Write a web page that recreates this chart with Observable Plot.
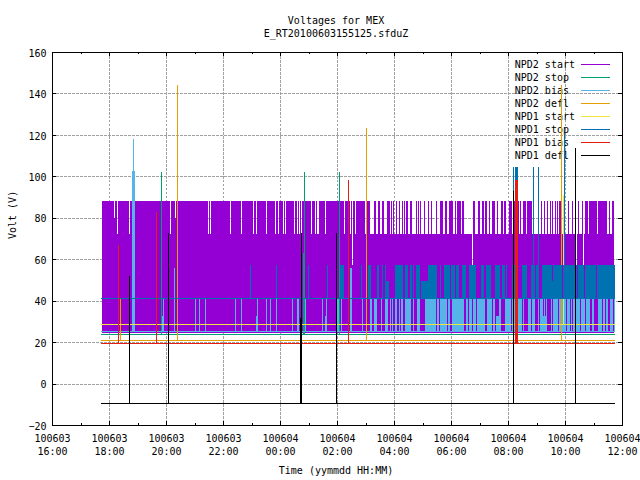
<!DOCTYPE html>
<html>
<head>
<meta charset="utf-8">
<script src="https://cdn.jsdelivr.net/npm/d3@7"></script>
<script src="https://cdn.jsdelivr.net/npm/@observablehq/plot@0.6"></script>
<style>html,body{margin:0;padding:0;background:#fff}svg{display:block}</style>
</head>
<body>
<div id="chart"></div>
<script>
// x values are hours after 100603 16:00, y values are volts
const majorHours = [0,2,4,6,8,10,12,14,16,18,20];
const minorHours = [1,3,5,7,9,11,13,15,17,19];
const xTickLabels = ["100603\n16:00","100603\n18:00","100603\n20:00","100603\n22:00","100604\n00:00","100604\n02:00","100604\n04:00","100604\n06:00","100604\n08:00","100604\n10:00","100604\n12:00"];
const voltTicks = [-20,0,20,40,60,80,100,120,140,160];
const seriesNames = ["NPD2 start","NPD2 stop","NPD2 bias","NPD2 defl","NPD1 start","NPD1 stop","NPD1 bias","NPD1 defl"];
const seriesColors = ["#9400d3","#009e73","#56b4e9","#e69f00","#f0e442","#0072b2","#e51e10","#000000"];
const dataStart = 1.72, dataEnd = 19.74;

// NPD2 start: dropouts in the band that reaches 88 V
const purpleGapNarrow = [2.29,2.71,4.15,5.48,5.55,6.26,6.64,7.06,7.18,7.51,7.84,7.96,8.13,8.19,8.50,8.62,8.70,8.76,9.12,9.23,9.59,10.26,10.49,10.64];
const purpleGapWide = [[9.30,9.37],[10.97,11.02],[11.16,11.30],[11.37,11.44],[11.51,11.59],[11.65,11.74],[11.86,11.89],[11.93,11.98],[12.01,12.07],[12.11,12.18],[12.21,12.28],[12.33,12.36],[12.40,12.42],[12.49,12.57],[12.63,12.76],[12.81,12.85],[12.88,12.91],[12.95,13.05],[13.09,13.19],[13.23,13.30],[13.33,13.47],[13.51,13.61],[13.72,13.79],[13.85,13.93],[14.07,14.14],[14.18,14.21],[14.35,14.39],[14.46,14.78],[14.84,14.94],[15.01,15.09],[15.16,15.19],[15.26,15.33],[15.37,15.44],[15.54,15.61],[15.65,15.75],[15.82,15.86],[15.93,16.04],[16.14,16.21],[16.28,16.35],[16.39,16.42],[16.46,16.53],[16.63,16.67],[16.84,17.16],[17.19,17.26],[17.30,17.37],[17.40,17.47],[17.51,17.54],[17.58,17.65],[17.68,17.72],[17.75,17.79],[17.89,17.93],[18.00,18.11],[18.14,18.25],[18.28,18.39],[18.42,18.46],[18.49,18.60],[18.67,18.70],[18.81,18.84],[19.12,19.16],[19.47,19.54],[19.58,19.65]];
const purpleGapShort = [2.19,4.33];
const purpleGapDeep = [10.56,14.75,18.42,18.66];

// NPD1 stop: block runs
const blueHigh = [[6.95,6.98],[7.86,7.89],[8.98,9.02],[9.65,9.68],[10.12,10.16],[10.19,10.23],[10.84,10.88],[11.09,11.19],[11.40,11.47],[11.58,11.61],[11.68,11.72],[12.04,12.32],[12.39,12.49],[12.56,12.63],[12.67,12.70],[12.77,12.91],[13.19,13.51],[13.61,13.65],[13.75,13.96],[14.00,14.14],[14.18,14.28],[14.39,14.53],[14.63,14.88],[15.05,15.16],[15.23,15.40],[15.54,15.72],[15.79,15.89],[15.93,15.96],[16.14,16.32],[16.49,16.67],[16.81,16.95],[16.98,17.09],[17.19,17.54],[17.58,17.88],[17.93,18.42],[18.46,18.67],[18.70,19.09],[19.13,19.74]];
const blueLow = [[11.72,11.82],[12.95,13.19],[17.54,17.58]];

// NPD2 bias: block runs
const skyNarrow = [3.91,5.03,5.17,5.38,6.43,6.64,7.19,7.51,7.65,7.86,8.43,8.88,9.47,9.61,10.14,10.88,11.54,11.86,11.93,12.18];
const skyHigh = [[8.61,8.67],[10.01,10.08],[11.16,11.23],[11.30,11.40],[11.67,11.79],[12.04,12.11],[12.25,12.32],[12.39,12.60],[12.67,12.70],[12.81,12.91],[13.09,13.47],[13.51,13.57],[13.61,13.86],[13.89,13.96],[14.05,14.47],[14.54,14.59],[14.63,14.73],[14.77,14.87],[14.92,15.19],[15.25,15.45],[15.49,15.53],[15.67,15.75],[15.89,16.11],[16.14,16.28],[16.34,16.49],[16.53,16.56],[16.70,16.81],[16.84,16.95],[17.06,17.10],[17.12,17.23],[17.26,17.30],[17.33,17.37],[17.51,17.54],[17.58,17.75],[17.79,17.86],[17.89,18.04],[18.07,18.18],[18.21,18.25],[18.28,18.35],[18.39,18.53],[18.56,18.70],[18.74,18.88],[18.95,19.02],[19.16,19.30],[19.33,19.40],[19.44,19.51],[19.58,19.68],[19.72,19.75]];
const skyLow = [[3.86,3.91],[5.37,5.42],[7.16,7.23],[9.58,9.65],[15.57,15.67],[17.23,17.26],[17.30,17.33]];
const skyMid = [[10.44,10.53]];

// Single spikes: [hour, top volts]
const greenSpikes = [[3.84,102],[8.85,102],[10.08,102]];
const skySpikes = [[2.85,118],[4.29,56]];
const orangeSpikes = [[2.40,41.5],[4.40,144],[11.03,123.5],[17.87,144]];
const yellowSpikes = [[17.94,91]];
const blueSpikes = [[16.18,104.5],[16.89,104.5],[17.06,104.5],[17.98,120]];
const redSpikes = [[2.33,67],[3.66,83],[10.40,98]];
const blackSpikes = [[2.71,52],[4.08,72.5],[8.72,72.5],[9.98,72.5],[16.18,93],[18.36,113.7]];
// Wider spikes: [start, end, top volts]
const skyWide = [[2.82,2.91,102.5]];
const greenWide = [[8.80,8.85,63]];
const blueWide = [[16.25,16.35,104.5]];
const redWide = [[16.25,16.35,98]];
const blackWide = [[8.70,8.77,31.6]];

// Baselines
const base = {purple:24.5, green:24, sky:25.2, orange:21.2, yellow:28.7, blue:41.5, red:19.5, black:-9.5};

const crisp = {shapeRendering:"crispEdges"};
const narrowToPair = c => [c-0.0175, c+0.0175];
function complement(gaps, lo, hi){
  const sorted = gaps.slice().sort((a,b)=>a[0]-b[0]);
  const out = []; let cur = lo;
  for (const [a,b] of sorted){ if (a>cur) out.push([cur,a]); cur = Math.max(cur,b); }
  if (cur<hi) out.push([cur,hi]);
  return out;
}
const band = (runs, y1, y2, fill) => Plot.rect(runs, {x1:d=>d[0], x2:d=>d[1], y1:()=>y1, y2:()=>y2, fill, ...crisp});
const wide = (runs, low, fill) => Plot.rect(runs, {x1:d=>d[0], x2:d=>d[1], y1:()=>low, y2:d=>d[2], fill, ...crisp});
const spikes = (list, low, stroke) => Plot.ruleX(list, {x:d=>d[0], y1:()=>low, y2:d=>d[1], stroke, strokeWidth:1, ...crisp});
const baseline = (v, stroke) => Plot.ruleY([v], {x1:()=>dataStart, x2:()=>dataEnd, stroke, strokeWidth:1, ...crisp});

const purpleFrom = 1.75, purpleTo = 19.72;
const gapsA = [...purpleGapWide, ...purpleGapNarrow.map(narrowToPair), ...purpleGapDeep.map(narrowToPair)];
const gapsB = [...gapsA, ...purpleGapShort.map(narrowToPair)];

const [purple,green,sky,orange,yellow,blue,red,black] = seriesColors;

// Legend placed in chart units
const legendX = 16.22, legendSample = [18.57,19.58], legendTop = 154.2, legendStep = 6.27;
const legendRows = seriesNames.map((name,i)=>({name, color:seriesColors[i], v:legendTop-i*legendStep}));

const tickV = 1.9, minorV = 1, tickH = 0.14;
const font = '"DejaVu Sans Mono", "Liberation Mono", monospace';
const fs = 10;

const chart = Plot.plot({
  width:640, height:480,
  marginLeft:52, marginRight:18, marginTop:52, marginBottom:55,
  style:{fontFamily:font, fontSize:"10px", background:"#fff", color:"#000"},
  x:{domain:[0,20], label:null},
  y:{domain:[-20,160], label:null},
  color:{type:"identity"},
  marks:[
    // grid
    Plot.ruleX(majorHours.slice(1,-1), {x:d=>d, stroke:"#a0a0a0", strokeDasharray:"2.5,1.5", strokeWidth:1, ...crisp}),
    Plot.ruleY(voltTicks.slice(1,-1), {y:d=>d, stroke:"#a0a0a0", strokeDasharray:"2.5,1.5", strokeWidth:1, ...crisp}),
    // legend
    Plot.text(legendRows, {x:()=>legendX, y:d=>d.v, text:d=>d.name, textAnchor:"start", fill:"#000", fontSize:fs}),
    Plot.ruleY(legendRows, {y:d=>d.v, x1:()=>legendSample[0], x2:()=>legendSample[1], stroke:d=>d.color, strokeWidth:1, ...crisp}),
    // NPD2 start
    band([[purpleFrom,purpleTo]], base.purple, 57, purple),
    band(complement(purpleGapDeep.map(narrowToPair), purpleFrom, purpleTo), 57, 72, purple),
    band(complement(gapsA, purpleFrom, purpleTo), 72, 80, purple),
    band(complement(gapsB, purpleFrom, purpleTo), 80, 88, purple),
    // NPD2 stop
    baseline(base.green, green),
    wide(greenWide, base.green, green),
    spikes(greenSpikes, base.green, green),
    // NPD2 bias
    baseline(base.sky, sky),
    band(skyHigh, base.sky, 41, sky),
    band(skyLow, base.sky, 32.5, sky),
    band(skyMid, base.sky, 56, sky),
    Plot.ruleX(skyNarrow, {x:d=>d, y1:()=>base.sky, y2:()=>41, stroke:sky, strokeWidth:1, ...crisp}),
    wide(skyWide, base.sky, sky),
    spikes(skySpikes, base.sky, sky),
    // NPD2 defl
    baseline(base.orange, orange),
    spikes(orangeSpikes, base.orange, orange),
    // NPD1 start
    baseline(base.yellow, yellow),
    spikes(yellowSpikes, base.yellow, yellow),
    // NPD1 stop
    band(blueHigh, 41.5, 57.2, blue),
    band(blueLow, 41.5, 49.5, blue),
    baseline(base.blue, blue),
    wide(blueWide, base.blue, blue),
    spikes(blueSpikes, base.blue, blue),
    // NPD1 bias
    baseline(base.red, red),
    wide(redWide, base.red, red),
    spikes(redSpikes, base.red, red),
    // NPD1 defl
    baseline(base.black, black),
    wide(blackWide, base.black, black),
    spikes(blackSpikes, base.black, black),
    // ticks and frame
    Plot.ruleX(majorHours, {x:d=>d, y1:()=>-20, y2:()=>-20+tickV, stroke:"#000", ...crisp}),
    Plot.ruleX(minorHours, {x:d=>d, y1:()=>-20, y2:()=>-20+minorV, stroke:"#000", ...crisp}),
    Plot.ruleX(majorHours, {x:d=>d, y1:()=>160, y2:()=>160-tickV, stroke:"#000", ...crisp}),
    Plot.ruleX(minorHours, {x:d=>d, y1:()=>160, y2:()=>160-minorV, stroke:"#000", ...crisp}),
    Plot.ruleY(voltTicks, {y:d=>d, x1:()=>0, x2:()=>tickH, stroke:"#000", ...crisp}),
    Plot.ruleY(voltTicks, {y:d=>d, x1:()=>20, x2:()=>20-tickH, stroke:"#000", ...crisp}),
    Plot.frame({stroke:"#000", strokeWidth:1, ...crisp}),
    // axes
    Plot.axisY(voltTicks, {anchor:"left", tickSize:0, tickPadding:6, label:null, fontSize:fs, dy:1}),
    Plot.axisX(majorHours, {anchor:"bottom", tickSize:0, tickPadding:7, label:null, fontSize:fs, lineHeight:1.3,
      tickFormat:d=>xTickLabels[majorHours.indexOf(d)]}),
    // titles
    Plot.text(["Voltages for MEX\nE_RT20100603155125.sfduZ"], {frameAnchor:"top", dx:-1.5, dy:-38, lineAnchor:"top", lineHeight:1.3, fontSize:fs, fill:"#000"}),
    Plot.text(["Time (yymmdd HH:MM)"], {frameAnchor:"bottom", dx:-1.5, dy:45, lineAnchor:"middle", fontSize:fs, fill:"#000"}),
    Plot.text(["Volt (V)"], {frameAnchor:"left", dx:-40, rotate:-90, fontSize:fs, fill:"#000"})
  ]
});
document.getElementById("chart").appendChild(chart);
</script>
</body>
</html>
